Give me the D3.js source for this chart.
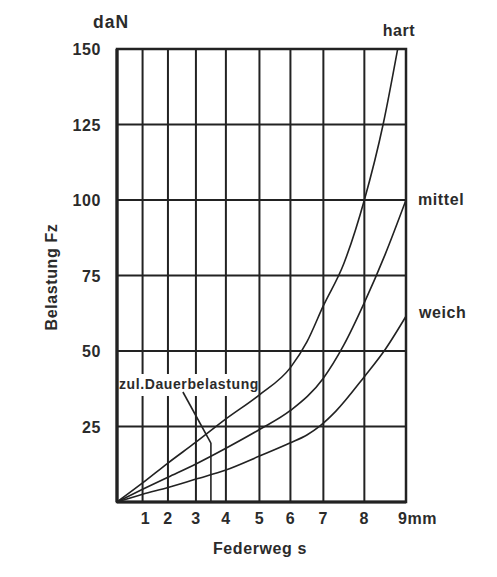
<!DOCTYPE html>
<html>
<head>
<meta charset="utf-8">
<script src="https://cdn.jsdelivr.net/npm/d3@7"></script>
<style>
body { margin: 0; background: #fff; }
text { font-family: "Liberation Sans", Arial, sans-serif; font-weight: bold; fill: #2b2b2b; letter-spacing: 0.6px; }
</style>
</head>
<body>
<script>
// Daten
var xTicks = [1, 2, 3, 4, 5, 6, 7, 8, 9];
var yTicks = [25, 50, 75, 100, 125, 150];

// Kennlinien [Federweg mm, Belastung daN]
var hart = [[0,0],[1,6.3],[2,12.9],[3,19.8],[4,27.5],[5,35.5],[6,44.5],[6.5,53],[7,65],[7.5,79],[8,100],[8.45,125],[8.8,150]];
var mittel = [[0,0],[1,4.2],[2,8.2],[3,12.6],[4,17.8],[5,24],[6,30.3],[7,41],[7.5,52],[8,66],[8.5,82],[9,100]];
var weich = [[0,0],[1,2.6],[2,4.8],[3,7.6],[4,10.6],[5,15.2],[6,19.6],[6.5,22.2],[6.9,25.2],[7.3,30],[8,41.5],[8.5,50.5],[9,61.5]];
var kurven = [
  {name: "hart", werte: hart},
  {name: "mittel", werte: mittel},
  {name: "weich", werte: weich}
];
var dauerX = 3.5; // zul. Dauerbelastung

///Body Werte definieren
var W = 497, H = 577;
var margin = {top: 49, right: 91, bottom: 75, left: 117}
, width = W - margin.left - margin.right
, height = H - margin.top - margin.bottom;

// X Achse ist im Original nicht gleichmaessig geteilt
var xFrac = [0, .0885, .1763, .2731, .3768, .4929, .6001, .7141, .8559, 1];
var xScale = d3.scaleLinear()
.domain(d3.range(0, 10))
.range(xFrac.map(f => f * width));

var yScale = d3.scaleLinear()
.domain([0, 150])
.range([height, 0]);

var svg = d3.select("body").append("svg")
.attr("width", W)
.attr("height", H);

var g = svg.append("g")
.attr("transform", "translate(" + margin.left + "," + margin.top + ")");

// Gitter senkrecht
g.selectAll(".vgrid").data(xTicks).enter().append("line")
.attr("x1", d => xScale(d)).attr("x2", d => xScale(d))
.attr("y1", 0).attr("y2", height)
.attr("stroke", "#222").attr("stroke-width", 2);

// Gitter waagrecht
g.selectAll(".hgrid").data(yTicks).enter().append("line")
.attr("x1", 0).attr("x2", width)
.attr("y1", d => yScale(d)).attr("y2", d => yScale(d))
.attr("stroke", "#222").attr("stroke-width", 2);

// Rahmen
g.append("rect")
.attr("x", 0).attr("y", 0).attr("width", width).attr("height", height)
.attr("fill", "none").attr("stroke", "#222").attr("stroke-width", 2.5);
g.append("line").attr("x1", 0).attr("x2", 0).attr("y1", 0).attr("y2", height)
.attr("stroke", "#222").attr("stroke-width", 3.2);
g.append("line").attr("x1", 0).attr("x2", width).attr("y1", height).attr("y2", height)
.attr("stroke", "#222").attr("stroke-width", 3.2);

// Linie generieren
var line = d3.line()
.x(d => xScale(d[0]))
.y(d => yScale(d[1]))
.curve(d3.curveMonotoneX);

g.selectAll(".kurve").data(kurven).enter().append("path")
.attr("d", d => line(d.werte))
.attr("fill", "none")
.attr("stroke", "#222")
.attr("stroke-width", 1.6);

// Kurvennamen
g.append("text").attr("x", xScale(8.8) - 15).attr("y", -13).attr("font-size", 16).text("hart");
g.append("text").attr("x", width + 12).attr("y", yScale(100) + 5).attr("font-size", 16).text("mittel");
g.append("text").attr("x", width + 13).attr("y", yScale(61.5) + 2).attr("font-size", 16).text("weich");

// zul. Dauerbelastung
var lblY = yScale(50) + 38;
g.append("rect")
.attr("x", 2).attr("y", lblY - 15).attr("width", 138).attr("height", 22)
.attr("fill", "#fff");
g.append("text").attr("x", 2).attr("y", lblY).attr("font-size", 14).text("zul.Dauerbelastung");
g.append("line")
.attr("x1", xScale(dauerX) - 28).attr("y1", lblY + 3)
.attr("x2", xScale(dauerX)).attr("y2", yScale(19.5))
.attr("stroke", "#222").attr("stroke-width", 1.6);
g.append("line")
.attr("x1", xScale(dauerX)).attr("x2", xScale(dauerX))
.attr("y1", yScale(19.5)).attr("y2", height)
.attr("stroke", "#222").attr("stroke-width", 1.6);

// Y Achse Beschriftung
g.selectAll(".ylab").data(yTicks).enter().append("text")
.attr("x", -16).attr("y", d => yScale(d) + 6)
.attr("text-anchor", "end").attr("font-size", 16)
.text(d => d);

// X Achse Beschriftung
g.selectAll(".xlab").data(xTicks).enter().append("text")
.attr("x", d => d === 9 ? xScale(d) - 8 : xScale(d) + (d === 1 ? 3 : 0))
.attr("y", height + 22)
.attr("text-anchor", d => d === 9 ? "start" : "middle")
.attr("font-size", 16)
.text(d => d === 9 ? d + "mm" : d);

// Achsentitel
svg.append("text").attr("x", 93).attr("y", 28).attr("font-size", 17.5).style("letter-spacing", "1px").text("daN");
svg.append("text").attr("x", 260).attr("y", 554).attr("text-anchor", "middle").attr("font-size", 16).text("Federweg s");
svg.append("text")
.attr("transform", "translate(57,277) rotate(-90)")
.attr("text-anchor", "middle").attr("font-size", 16)
.text("Belastung Fz");
</script>
</body>
</html>
